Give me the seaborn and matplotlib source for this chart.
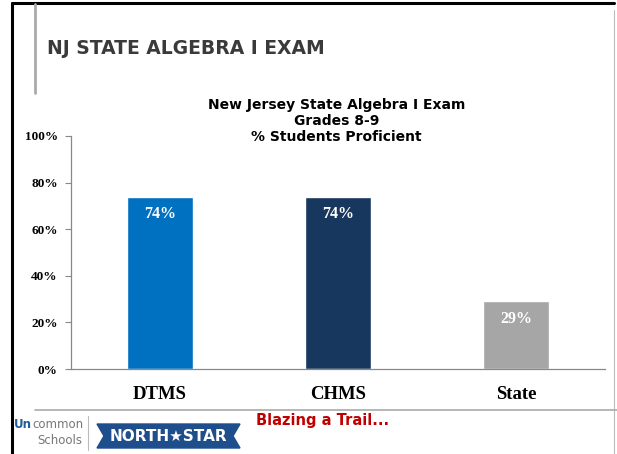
import numpy as np
import pandas as pd
import seaborn as sns
import matplotlib.pyplot as plt
from matplotlib.patches import Polygon
from matplotlib.lines import Line2D

# chart data
schools = ["DTMS", "CHMS", "State"]
pct_proficient = [74, 74, 29]
bar_colors = ["#0070C0", "#17375E", "#A6A6A6"]
y_ticks = [0, 20, 40, 60, 80, 100]
y_tick_labels = ["0%", "20%", "40%", "60%", "80%", "100%"]

df = pd.DataFrame({"school": schools, "pct": pct_proficient})

sns.set_style("white")
plt.rcParams["font.family"] = ["DejaVu Sans"]

fig = plt.figure(figsize=(6.17, 4.54), dpi=100)
ax = fig.add_axes([71 / 617, 1 - 369 / 454, 534 / 617, 233 / 454])

sns.barplot(data=df, x="school", y="pct", hue="school", palette=bar_colors,
            width=0.376, legend=False, saturation=1, ax=ax)

ax.set_ylim(0, 100)
ax.set_xlim(-0.5, 2.5)
ax.set_yticks(y_ticks)
ax.set_yticklabels(y_tick_labels, fontfamily="Liberation Serif",
                   fontweight="bold", fontsize=9.5, color="black")
ax.set_xticks(range(len(schools)))
ax.set_xticklabels(schools, fontfamily="Liberation Serif",
                   fontweight="bold", fontsize=13.5, color="black")
ax.tick_params(axis="y", length=4, color="#888888", pad=5.5, direction="out", left=True)
ax.tick_params(axis="x", length=0, pad=12)
ax.set_xlabel("")
ax.set_ylabel("")
sns.despine(ax=ax)
for s in ["left", "bottom"]:
    ax.spines[s].set_color("#888888")
    ax.spines[s].set_linewidth(0.9)

# value labels inside bars
for patch, v in zip(ax.patches, pct_proficient):
    ax.annotate(f"{v}%", (patch.get_x() + patch.get_width() / 2, patch.get_height()),
                xytext=(0, -12.5), textcoords="offset points", ha="center", va="center",
                color="white", fontfamily="Liberation Serif", fontweight="bold",
                fontsize=11.5)

# chart title
fig.text(0.545, 1 - 121 / 454, "New Jersey State Algebra I Exam\nGrades 8-9\n% Students Proficient",
         ha="center", va="center", fontsize=10, fontweight="bold",
         linespacing=1.2, color="black")

# slide decoration
fig.add_artist(Line2D([12 / 617, 12 / 617], [0, 1 - 3 / 454], color="black", lw=2.2))
fig.add_artist(Line2D([12 / 617, 614 / 617], [1 - 3 / 454, 1 - 3 / 454], color="black", lw=2.2))
fig.add_artist(Line2D([614 / 617, 614 / 617], [1 - 10 / 454, 0], color="#BBBBBB", lw=0.8))
fig.add_artist(Line2D([35 / 617, 35 / 617], [1 - 4 / 454, 1 - 93 / 454], color="#AAAAAA", lw=2))
fig.add_artist(Line2D([35 / 617, 1], [1 - 410 / 454, 1 - 410 / 454], color="#AAAAAA", lw=1.2))

fig.text(47 / 617, 1 - 48 / 454, "NJ STATE ALGEBRA I EXAM", ha="left", va="center",
         fontsize=13.5, fontweight="bold", color="#3A3A3A")

fig.text(256 / 617, 1 - 421 / 454, "Blazing a Trail...", ha="left", va="center",
         fontsize=10.5, fontweight="bold", color="#C00000")

# logos
un = fig.text(14 / 617, 1 - 424 / 454, "Un", ha="left", va="center", fontsize=8.5,
              fontweight="bold", color="#1F5C99")
ax.annotate("common", xy=(1, 0.5), xycoords=un, xytext=(0.5, 0),
            textcoords="offset points", ha="left", va="center", fontsize=8.5,
            color="#777777", annotation_clip=False)
fig.text(82 / 617, 1 - 440 / 454, "Schools", ha="right", va="center", fontsize=8.5,
         color="#777777")
fig.add_artist(Line2D([88 / 617, 88 / 617], [1 - 416 / 454, 1 - 450 / 454], color="#BBBBBB", lw=0.8))
bx = np.array([97, 240, 233, 240, 97, 104]) / 617
by = 1 - np.array([424, 424, 436, 448, 448, 436]) / 454
fig.add_artist(Polygon(np.column_stack([bx, by]), closed=True, color="#1F4E8C"))
fig.text(168 / 617, 1 - 436 / 454, "NORTH\u2605STAR", ha="center", va="center",
         fontsize=11, fontweight="bold", color="white")

fig.savefig("out.png", dpi=100)
